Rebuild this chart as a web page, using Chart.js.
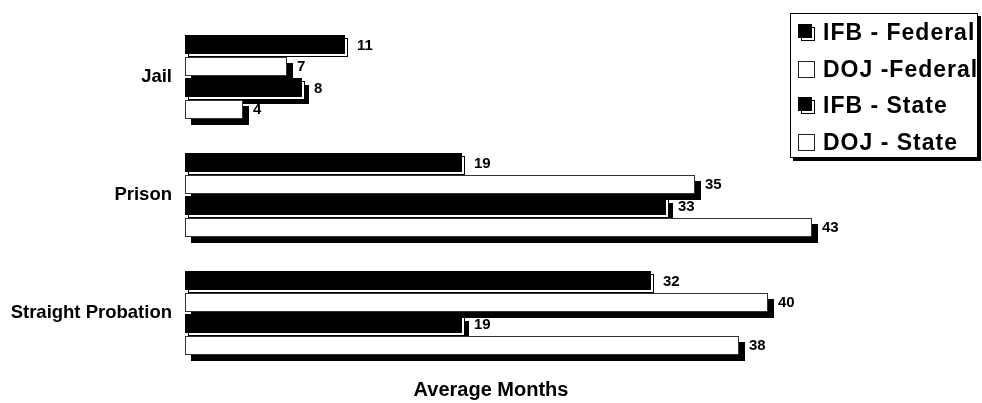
<!DOCTYPE html>
<html>
<head>
<meta charset="utf-8">
<script src="https://cdn.jsdelivr.net/npm/chart.js@4/dist/chart.umd.min.js"></script>
<style>
  html, body { margin: 0; padding: 0; background: #fff; }
  #wrap { width: 982px; height: 403px; }
</style>
</head>
<body>
<div id="wrap"><canvas id="c" width="982" height="403"></canvas></div>
<script>
// Sentence lengths by sentence type, in average months
const categories = ['Jail', 'Prison', 'Straight Probation'];
const seriesNames = ['IFB - Federal', 'DOJ -Federal', 'IFB - State', 'DOJ - State'];
const ifbFederal = [11, 19, 32];
const dojFederal = [7, 35, 40];
const ifbState = [8, 33, 19];
const dojState = [4, 43, 38];
const axisTitle = 'Average Months';

const FONT = "'Liberation Sans', Arial, Helvetica, sans-serif";

// Bar look: 'solid' = black bar over an outlined white offset plate,
// 'open' = outlined white bar; dropShadow adds a black offset shadow.
const seriesLooks = [
  { look: 'solid', dropShadow: false },
  { look: 'open', dropShadow: true },
  { look: 'solid', dropShadow: true },
  { look: 'open', dropShadow: true }
];
const seriesValues = [ifbFederal, dojFederal, ifbState, dojState];

const barLook = {
  id: 'barLook',
  afterDatasetsDraw(chart) {
    const ctx = chart.ctx;
    ctx.save();
    ctx.lineWidth = 1;
    const labels = [];
    chart.data.datasets.forEach((ds, di) => {
      const meta = chart.getDatasetMeta(di);
      meta.data.forEach((el, i) => {
        const p = el.getProps(['x', 'y', 'base', 'height'], true);
        const left = Math.round(p.base);
        const right = Math.round(p.x);
        const top = Math.round(p.y - p.height / 2);
        const h = Math.round(p.height);
        const w = right - left;
        if (ds.look === 'solid') {
          if (ds.dropShadow) {
            ctx.fillStyle = '#000';
            ctx.fillRect(left + 7, top + 7, w, h);
          }
          ctx.fillStyle = '#fff';
          ctx.fillRect(left + 3, top + 3, w, h);
          ctx.strokeStyle = '#000';
          ctx.strokeRect(left + 3.5, top + 3.5, w - 1, h - 1);
          ctx.fillStyle = '#000';
          ctx.fillRect(left, top, w, h);
          labels.push([ds.data[i], right + 12, p.y + 1]);
        } else {
          ctx.fillStyle = '#000';
          ctx.fillRect(left + 6, top + 6, w, h);
          ctx.fillStyle = '#fff';
          ctx.fillRect(left, top, w, h);
          ctx.strokeStyle = '#333';
          ctx.strokeRect(left + 0.5, top + 0.5, w - 1, h - 1);
          labels.push([ds.data[i], right + 10, p.y + 1]);
        }
      });
    });
    ctx.fillStyle = '#000';
    ctx.font = 'bold 15px ' + FONT;
    ctx.textAlign = 'left';
    ctx.textBaseline = 'middle';
    labels.forEach(([v, x, y]) => ctx.fillText(String(v), x, y));
    ctx.restore();
  }
};

const boxLegend = {
  id: 'boxLegend',
  afterDraw(chart) {
    const ctx = chart.ctx;
    ctx.save();
    const bx = 790, by = 13, bw = 188, bh = 145;
    // frame with shadow
    ctx.fillStyle = '#000';
    ctx.fillRect(bx + 3, by + bh, bw, 3);
    ctx.fillRect(bx + bw, by + 3, 3, bh);
    ctx.fillStyle = '#fff';
    ctx.fillRect(bx, by, bw, bh);
    ctx.strokeStyle = '#000';
    ctx.lineWidth = 1;
    ctx.strokeRect(bx + 0.5, by + 0.5, bw - 1, bh - 1);

    ctx.font = 'bold 23px ' + FONT;
    ctx.textAlign = 'left';
    ctx.textBaseline = 'middle';
    try { ctx.letterSpacing = '1px'; } catch (e) {}
    chart.data.datasets.forEach((ds, i) => {
      const cy = Math.round(33 + i * 36.7);
      const sx = 798, sy = cy - 9;
      if (ds.look === 'solid') {
        ctx.fillStyle = '#fff';
        ctx.fillRect(sx + 3, sy + 3, 14, 14);
        ctx.strokeStyle = '#000';
        ctx.strokeRect(sx + 3.5, sy + 3.5, 13, 13);
        ctx.fillStyle = '#000';
        ctx.fillRect(sx, sy, 14, 14);
      } else {
        ctx.fillStyle = '#fff';
        ctx.fillRect(sx, sy, 17, 17);
        ctx.strokeStyle = '#222';
        ctx.strokeRect(sx + 0.5, sy + 0.5, 16, 16);
      }
      ctx.fillStyle = '#000';
      ctx.fillText(ds.label, 823, cy + 1);
    });
    ctx.restore();
  }
};

new Chart(document.getElementById('c'), {
  type: 'bar',
  data: {
    labels: categories,
    datasets: seriesNames.map((name, i) => ({
      label: name,
      data: seriesValues[i],
      look: seriesLooks[i].look,
      dropShadow: seriesLooks[i].dropShadow,
      backgroundColor: 'rgba(0,0,0,0)',
      borderWidth: 0,
      categoryPercentage: 0.731,
      barPercentage: 0.876
    }))
  },
  options: {
    indexAxis: 'y',
    responsive: false,
    animation: false,
    devicePixelRatio: 1,
    layout: { padding: { top: 18, right: 185, bottom: 0, left: 0 } },
    plugins: {
      legend: { display: false },
      tooltip: { enabled: false }
    },
    scales: {
      x: {
        min: 0,
        max: 42,
        grid: { display: false, drawTicks: false },
        border: { display: false },
        ticks: { display: false },
        title: {
          display: true,
          text: axisTitle,
          color: '#000',
          font: { family: FONT, size: 20, weight: 'bold' },
          padding: { top: 6, bottom: 1 }
        }
      },
      y: {
        // tick marks are hidden; their length only spaces the labels from the bars
        grid: { display: false, drawTicks: true, tickLength: 11 },
        border: { display: false },
        ticks: {
          color: '#000',
          padding: 2,
          font: { family: FONT, size: 18.5, weight: 'bold' }
        },
        afterFit(scale) { scale.width = 185; }
      }
    }
  },
  plugins: [barLook, boxLegend]
});
</script>
</body>
</html>
